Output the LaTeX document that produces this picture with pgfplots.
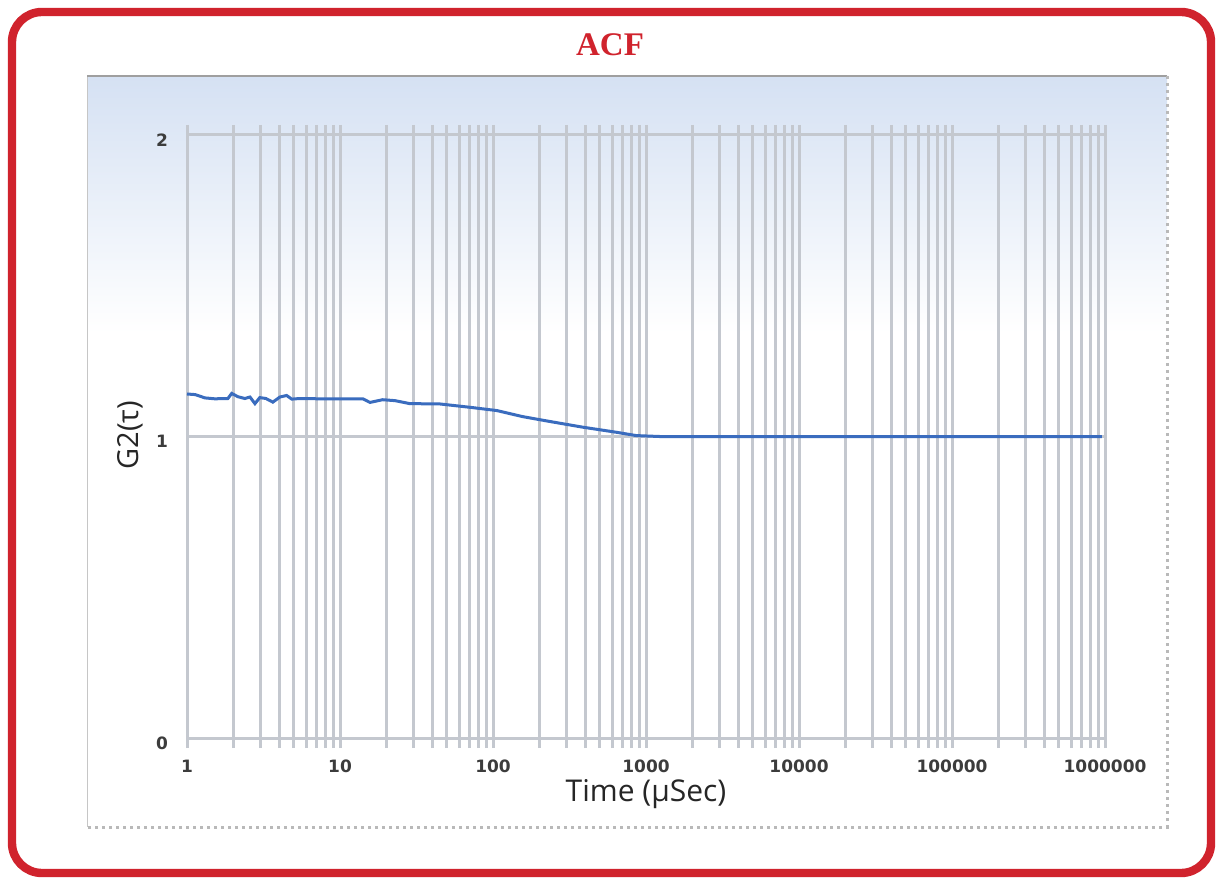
\documentclass[border=0pt]{standalone}
\usepackage{pgfplots}
\pgfplotsset{compat=1.18}
\usepackage{fontspec}
\setmainfont{DejaVu Sans}
\newfontfamily\labfont{Open Sans}
\newfontfamily\titfont{Liberation Serif}
\definecolor{gridc}{RGB}{196,200,207}
\definecolor{curvec}{RGB}{58,108,190}
\definecolor{bord}{RGB}{208,35,45}
\definecolor{paneltop}{RGB}{213,225,243}
\definecolor{tickc}{RGB}{60,60,60}
\begin{document}
\begin{tikzpicture}
\useasboundingbox (0pt,0pt) rectangle (609pt,439pt);
% panel
\fill[white] (43.5pt,25.5pt) rectangle (583.5pt,401pt);
\shade[top color=paneltop, bottom color=white] (43.5pt,272pt) rectangle (583.5pt,401pt);
\draw[gray!45, line width=0.5pt] (43.5pt,25.5pt) -- (43.5pt,401pt);
\draw[gray!75, line width=1.2pt] (43.5pt,401pt) -- (583.5pt,401pt);
\draw[gray!55, dotted, line width=1.5pt] (583.5pt,401pt) -- (583.5pt,25.5pt) -- (43.5pt,25.5pt);
% border
\draw[bord, line width=4.2pt, rounded corners=15pt] (6pt,2.5pt) rectangle (605.5pt,433pt);
% title
\node[text=bord, font=\titfont\bfseries\fontsize{16.5}{18}\selectfont] at (305pt,416.5pt) {ACF};
\begin{axis}[
  at={(93.5pt,70pt)}, anchor=south west,
  scale only axis, width=459pt, height=301.5pt,
  xmode=log, log basis x=10,
  xmin=1, xmax=1000000, ymin=0, ymax=2,
  xtick={1,10,100,1000,10000,100000,1000000},
  xticklabels={1,10,100,1000,10000,100000,1000000},
  minor xtick={2,3,4,5,6,7,8,9,20,30,40,50,60,70,80,90,200,300,400,500,600,700,800,900,2000,3000,4000,5000,6000,7000,8000,9000,20000,30000,40000,50000,60000,70000,80000,90000,200000,300000,400000,500000,600000,700000,800000,900000},
  ytick={0,1,2},
  yticklabels={0,1,2},
  grid=both,
  major grid style={gridc, line width=1.5pt},
  minor grid style={gridc, line width=1.5pt},
  axis line style={gridc, line width=0.8pt},
  tick align=outside,
  xtick style={gridc, line width=1.5pt},
  major tick length=5pt, minor tick length=5pt,
  ytick style={draw=none},
  ticklabel style={font=\bfseries\fontsize{8.5}{10}\selectfont, text=tickc},
  xticklabel style={anchor=north, yshift=-2.5pt},
  yticklabel style={anchor=east, xshift=-1pt, yshift=-2.5pt},
  xlabel={Time (µSec)},
  ylabel={G2(τ)},
  xlabel style={font=\labfont\fontsize{15}{17}\selectfont, text=black!85, at={(axis description cs:0.5,-0.0929)}, anchor=center},
  ylabel style={font=\labfont\fontsize{14.5}{17}\selectfont, text=black!85, at={(axis description cs:-0.062,0.502)}, anchor=center, rotate=0},
  clip=false,
]
\addplot[curvec, line width=1.5pt] table[row sep=\\] {
x y \\
1 1.141 \\
1.13 1.139 \\
1.31 1.128 \\
1.52 1.125 \\
1.85 1.126 \\
1.96 1.143 \\
2.15 1.132 \\
2.39 1.126 \\
2.58 1.131 \\
2.78 1.109 \\
2.99 1.129 \\
3.28 1.126 \\
3.64 1.114 \\
4.05 1.131 \\
4.48 1.136 \\
4.84 1.124 \\
5.47 1.126 \\
7.38 1.125 \\
9.98 1.125 \\
14.1 1.125 \\
15.7 1.113 \\
19.0 1.122 \\
22.8 1.119 \\
28.6 1.109 \\
44.8 1.108 \\
70.3 1.097 \\
106 1.086 \\
156 1.066 \\
234 1.050 \\
385 1.031 \\
641 1.014 \\
865 1.003 \\
1225 1.000 \\
2234 1.000 \\
10000 1.000 \\
100000 1.000 \\
955000 1.000 \\
};
\end{axis}
\end{tikzpicture}
\end{document}
